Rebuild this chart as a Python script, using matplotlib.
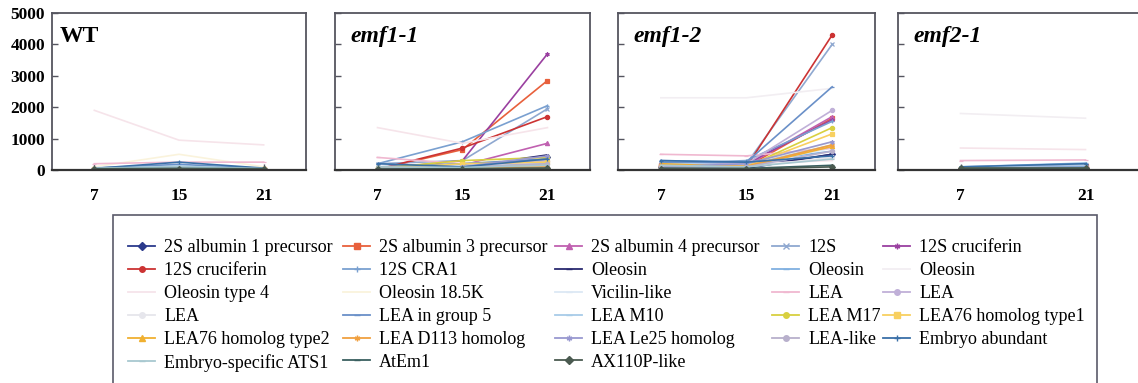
import matplotlib
matplotlib.use('Agg')
import matplotlib.pyplot as plt
from matplotlib.lines import Line2D
from matplotlib.patches import Rectangle

plt.rcParams['font.family'] = ['Liberation Serif', 'DejaVu Serif']

# ---------------- data ----------------
days_3 = ['7', '15', '21']
days_2 = ['7', '21']
panel_titles = ['WT', 'emf1-1', 'emf1-2', 'emf2-1']
y_ticks = [0, 1000, 2000, 3000, 4000, 5000]

gene_labels = [
    '2S albumin 1 precursor', '2S albumin 3 precursor', '2S albumin 4 precursor', '12S', '12S cruciferin',
    '12S cruciferin', '12S CRA1', 'Oleosin', 'Oleosin', 'Oleosin',
    'Oleosin type 4', 'Oleosin 18.5K', 'Vicilin-like', 'LEA', 'LEA',
    'LEA', 'LEA in group 5', 'LEA M10', 'LEA M17', 'LEA76 homolog type1',
    'LEA76 homolog type2', 'LEA D113 homolog', 'LEA Le25 homolog', 'LEA-like', 'Embryo abundant',
    'Embryo-specific ATS1', 'AtEm1', 'AX110P-like',
]

wt_values = [
    [30, 60, 30], [20, 40, 20], [10, 30, 10], [40, 80, 40], [20, 50, 20],
    [20, 60, 20], [50, 120, 50], [20, 40, 20], [60, 150, 40], [80, 120, 60],
    [1900, 950, 800], [100, 500, 100], [80, 150, 60], [200, 250, 250], [30, 60, 30],
    [20, 40, 20], [60, 180, 50], [50, 120, 40], [20, 40, 20], [20, 30, 20],
    [30, 40, 30], [20, 30, 20], [20, 40, 20], [30, 60, 30], [50, 250, 60],
    [60, 100, 50], [40, 50, 40], [30, 40, 30],
]

emf1_1_values = [
    [30, 150, 400], [20, 650, 2850], [10, 150, 850], [200, 300, 1950], [30, 300, 3700],
    [20, 700, 1700], [200, 900, 2050], [50, 100, 480], [100, 100, 300], [100, 150, 200],
    [1350, 850, 1350], [50, 200, 400], [50, 150, 300], [400, 200, 250], [30, 200, 300],
    [20, 50, 100], [100, 200, 350], [50, 100, 200], [50, 300, 400], [30, 200, 250],
    [80, 100, 150], [60, 50, 100], [50, 100, 450], [40, 100, 200], [200, 100, 350],
    [100, 80, 150], [30, 40, 60], [20, 30, 50],
]

emf1_2_values = [
    [100, 100, 500], [150, 100, 1650], [100, 150, 1700], [250, 200, 4000], [100, 200, 1600],
    [150, 100, 4300], [200, 300, 1550], [50, 50, 500], [300, 250, 600], [2300, 2300, 2600],
    [100, 200, 300], [100, 150, 900], [200, 150, 700], [500, 450, 700], [150, 200, 1900],
    [50, 100, 400], [250, 250, 2650], [200, 150, 800], [100, 100, 1350], [80, 120, 1150],
    [200, 100, 750], [150, 120, 800], [100, 200, 900], [80, 100, 600], [300, 250, 450],
    [150, 100, 350], [60, 50, 150], [40, 30, 100],
]

emf2_1_values = [
    [20, 40], [30, 120], [10, 20], [50, 80], [20, 40],
    [20, 100], [80, 150], [20, 30], [100, 220], [1800, 1650],
    [700, 650], [50, 80], [100, 120], [300, 320], [30, 40],
    [20, 30], [60, 100], [50, 80], [20, 30], [20, 20],
    [30, 40], [20, 30], [20, 30], [30, 40], [100, 200],
    [50, 60], [40, 50], [60, 60],
]

# ---------------- styles ----------------
ast = (6, 2, 0)
styles = [
    ('#2b3a8c', 'D'), ('#e8603c', 's'), ('#c060b0', '^'), ('#8fa8d0', 'x'), ('#9a40a0', ast),
    ('#cc3333', 'o'), ('#7aa0d0', '+'), ('#2a2a70', '_'), ('#80b0e0', '_'), ('#f2eef2', 'None'),
    ('#f6e4ea', 'None'), ('#faf3dc', 'None'), ('#dce8f4', '_'), ('#f0b8d0', '_'), ('#c0b0d8', 'o'),
    ('#e6e6ec', 'o'), ('#6a90c8', '_'), ('#a8cce8', '_'), ('#d8d040', 'o'), ('#f8d060', 's'),
    ('#f0b030', '^'), ('#f0a040', ast), ('#9898d0', ast), ('#b8b0cc', 'o'), ('#3a70a8', '+'),
    ('#a8c8d0', '_'), ('#3a6060', '_'), ('#4a5a50', 'D'),
]

W, H = 1138, 383
fig = plt.figure(figsize=(W / 100, H / 100), dpi=100)

def px_axes(l, r, top=13, bottom=170):
    return fig.add_axes([l / W, (H - bottom) / H, (r - l) / W, (bottom - top) / H])

panels = [
    (52, 306, days_3, wt_values),
    (335, 590, days_3, emf1_1_values),
    (618, 875, days_3, emf1_2_values),
    (898, 1148, days_2, emf2_1_values),
]

handles = []
for k, (l, r, days, values) in enumerate(panels):
    ax = px_axes(l, r)
    for i, vals in enumerate(values):
        c, m = styles[i]
        ax.plot(days, vals, color=c, marker=m, lw=1.2, ms=3, mew=0.9, zorder=2)
        if k == 0:
            handles.append(Line2D([], [], color=c, marker=m, lw=1.3, ms=4, mew=1.0))
    ax.set_xlim(-0.5, len(days) - 0.5)
    ax.set_ylim(0, 5000)
    ax.set_yticks(y_ticks)
    for s in ax.spines.values():
        s.set_color('#55555f')
        s.set_linewidth(1.3)
    ax.spines['bottom'].set_color('#333333')
    ax.spines['bottom'].set_linewidth(1.6)
    ax.tick_params(axis='both', direction='in', length=4, color='#55555f', width=1.0)
    ax.tick_params(axis='x', pad=13, labelsize=12.5)
    ax.tick_params(axis='y', pad=5, labelsize=12.5)
    for t in ax.get_xticklabels():
        t.set_fontweight('bold')
    if k == 0:
        for t in ax.get_yticklabels():
            t.set_fontweight('bold')
    else:
        ax.set_yticklabels([])
    inset = 8 if k == 0 else 15
    ax.text(inset / (r - l), (170 - 42) / 157, panel_titles[k], transform=ax.transAxes,
            fontsize=17, fontweight='bold', style='normal' if k == 0 else 'italic',
            va='baseline', ha='left')

# legend frame (extends beyond the bottom edge)
fig.add_artist(Rectangle((113 / W, -0.05), (1097 - 113) / W, (H - 215) / H + 0.05,
                         transform=fig.transFigure, fill=False, edgecolor='#5a5a6a', lw=1.2))

# legend: five columns, filled row by row
col_x = [128, 343, 555, 772, 883]
ncol = 5
for c in range(ncol):
    idx = list(range(c, len(gene_labels), ncol))
    fig.legend([handles[i] for i in idx], [gene_labels[i] for i in idx],
               loc='upper left', bbox_to_anchor=(col_x[c] / W, (H - 239) / H),
               frameon=False, fontsize=13, borderpad=0, borderaxespad=0,
               handlelength=1.5, handletextpad=0.5, labelspacing=0.33)

fig.savefig('out.png', dpi=100)
